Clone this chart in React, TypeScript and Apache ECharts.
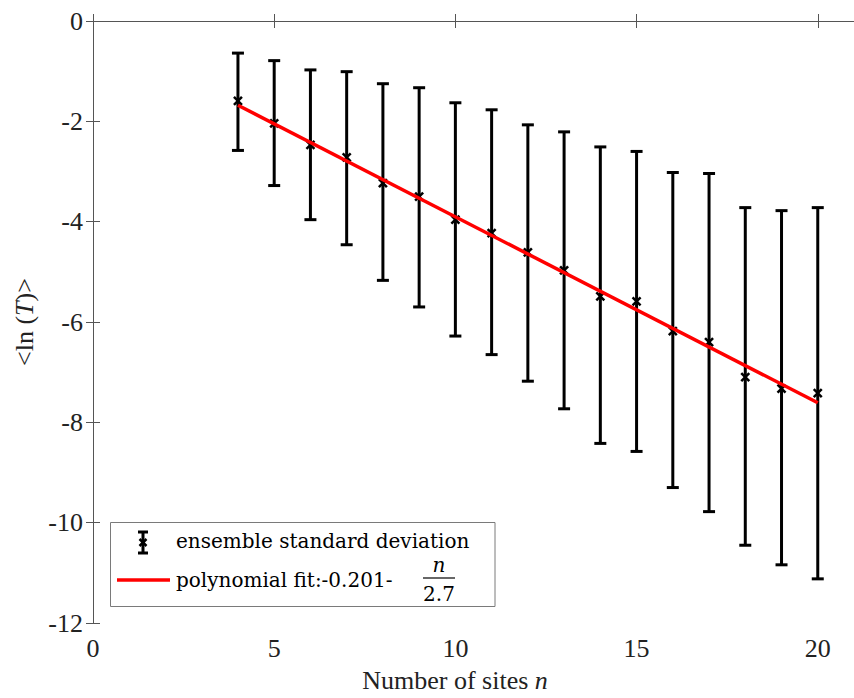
import React, { useEffect, useRef } from "react";
import * as echarts from "echarts";

const sites = [4, 5, 6, 7, 8, 9, 10, 11, 12, 13, 14, 15, 16, 17, 18, 19, 20];
const meanLnT = [-1.59, -2.04, -2.47, -2.72, -3.23, -3.5, -3.96, -4.23, -4.61, -4.97, -5.49, -5.59, -6.18, -6.4, -7.1, -7.33, -7.42];
const upperLnT = [-0.64, -0.79, -0.975, -1.01, -1.25, -1.33, -1.63, -1.77, -2.07, -2.21, -2.51, -2.6, -3.02, -3.04, -3.72, -3.78, -3.72];
const lowerLnT = [-2.58, -3.28, -3.96, -4.46, -5.17, -5.7, -6.28, -6.65, -7.18, -7.73, -8.42, -8.58, -9.3, -9.78, -10.45, -10.84, -11.12];
const fitX = [4, 20];
const fitY = [-1.68, -7.61];
const xTicks = [0, 5, 10, 15, 20];
const yTicks = [0, -2, -4, -6, -8, -10, -12];

const SERIF = "Liberation Serif";
const LEG = "DejaVu Serif";
const AXIS_COLOR = "#555555";

export default function App() {
  const ref = useRef<HTMLDivElement>(null);
  useEffect(() => {
    document.body.style.margin = "0";
    const chart = echarts.init(ref.current!, undefined, { renderer: "svg" });
    const errData = sites.map((n, i) => [n, lowerLnT[i], upperLnT[i], meanLnT[i]]);
    const fitData = fitX.map((x, i) => [x, fitY[i]]);
    const axisCommon = {
      axisLine: { show: true, lineStyle: { color: AXIS_COLOR, width: 1 } },
      axisTick: { show: true, inside: true, length: 7, lineStyle: { color: AXIS_COLOR } },
      splitLine: { show: false },
    };
    const legText = (text: string, x: number, y: number, align: string, italic = false) => ({
      type: "text",
      x,
      y,
      style: {
        text,
        fontFamily: LEG,
        fontSize: 20,
        fontStyle: italic ? "italic" : "normal",
        fill: "#000",
        verticalAlign: "middle",
        align,
      },
    });
    chart.setOption({
      animation: false,
      backgroundColor: "#fff",
      grid: { left: 93, right: -2, top: 21, bottom: 74, containLabel: false },
      xAxis: [
        {
          type: "value",
          min: xTicks[0],
          max: 21,
          interval: 5,
          position: "bottom",
          ...axisCommon,
          axisLabel: {
            show: true,
            margin: 12,
            fontFamily: SERIF,
            fontSize: 26,
            color: "#222",
            showMaxLabel: false,
            formatter: (v: number) => (xTicks.includes(v) ? String(v) : ""),
          },
          name: "Number of sites {i|n}",
          nameLocation: "middle",
          nameGap: 44,
          nameTextStyle: {
            fontFamily: SERIF,
            fontSize: 26,
            color: "#222",
            padding: [0, 37, 0, 0],
            rich: { i: { fontFamily: SERIF, fontSize: 26, fontStyle: "italic", color: "#222" } },
          },
        },
        {
          type: "value",
          min: xTicks[0],
          max: 21,
          interval: 5,
          position: "top",
          ...axisCommon,
          axisLabel: { show: false },
        },
      ],
      yAxis: [
        {
          type: "value",
          min: yTicks[yTicks.length - 1],
          max: yTicks[0],
          interval: 2,
          position: "left",
          ...axisCommon,
          axisLabel: { show: true, margin: 10, fontFamily: SERIF, fontSize: 26, color: "#222" },
          name: "<ln ({i|T})>",
          nameLocation: "middle",
          nameGap: 50,
          nameRotate: 90,
          nameTextStyle: {
            fontFamily: SERIF,
            fontSize: 26,
            color: "#222",
            rich: { i: { fontFamily: SERIF, fontSize: 26, fontStyle: "italic", color: "#222" } },
          },
        },
        {
          type: "value",
          min: yTicks[yTicks.length - 1],
          max: yTicks[0],
          interval: 2,
          position: "right",
          ...axisCommon,
          axisLabel: { show: false },
        },
      ],
      series: [
        {
          type: "custom",
          name: "ensemble standard deviation",
          xAxisIndex: 0,
          yAxisIndex: 0,
          data: errData,
          encode: { x: 0, y: [1, 2, 3] },
          z: 2,
          renderItem: (params: any, api: any) => {
            const x = api.value(0);
            const pLo = api.coord([x, api.value(1)]);
            const pHi = api.coord([x, api.value(2)]);
            const pM = api.coord([x, api.value(3)]);
            const cap = 6;
            const s = 4;
            const st = { stroke: "#000", lineWidth: 3 };
            return {
              type: "group",
              children: [
                { type: "line", shape: { x1: pHi[0], y1: pHi[1], x2: pLo[0], y2: pLo[1] }, style: st },
                { type: "line", shape: { x1: pHi[0] - cap, y1: pHi[1], x2: pHi[0] + cap, y2: pHi[1] }, style: st },
                { type: "line", shape: { x1: pLo[0] - cap, y1: pLo[1], x2: pLo[0] + cap, y2: pLo[1] }, style: st },
                { type: "line", shape: { x1: pM[0] - s, y1: pM[1] - s, x2: pM[0] + s, y2: pM[1] + s }, style: { stroke: "#000", lineWidth: 2.5 } },
                { type: "line", shape: { x1: pM[0] - s, y1: pM[1] + s, x2: pM[0] + s, y2: pM[1] - s }, style: { stroke: "#000", lineWidth: 2.5 } },
              ],
            };
          },
        },
        {
          type: "line",
          name: "polynomial fit",
          xAxisIndex: 0,
          yAxisIndex: 0,
          data: fitData,
          symbol: "none",
          z: 3,
          lineStyle: { color: "#ff0000", width: 3.5 },
        },
      ],
      graphic: [
        {
          type: "group",
          z: 100,
          children: [
            { type: "rect", shape: { x: 110.5, y: 522.5, width: 384.5, height: 84 }, style: { fill: "#fff", stroke: "#7a7a7a", lineWidth: 1 } },
            { type: "line", shape: { x1: 143, y1: 532, x2: 143, y2: 553 }, style: { stroke: "#000", lineWidth: 3 } },
            { type: "line", shape: { x1: 138, y1: 532, x2: 148, y2: 532 }, style: { stroke: "#000", lineWidth: 3 } },
            { type: "line", shape: { x1: 138, y1: 553, x2: 148, y2: 553 }, style: { stroke: "#000", lineWidth: 3 } },
            { type: "line", shape: { x1: 139.5, y1: 539, x2: 146.5, y2: 546 }, style: { stroke: "#000", lineWidth: 2.5 } },
            { type: "line", shape: { x1: 139.5, y1: 546, x2: 146.5, y2: 539 }, style: { stroke: "#000", lineWidth: 2.5 } },
            legText("ensemble standard deviation", 176, 541, "left"),
            { type: "line", shape: { x1: 117, y1: 580, x2: 170, y2: 580 }, style: { stroke: "#ff0000", lineWidth: 3.5 } },
            legText("polynomial fit:-0.201-", 176, 580, "left"),
            legText("n", 439, 565, "center", true),
            { type: "line", shape: { x1: 423, y1: 578, x2: 455, y2: 578 }, style: { stroke: "#000", lineWidth: 1.2 } },
            legText("2.7", 439, 594, "center"),
          ],
        },
      ],
    });
    return () => chart.dispose();
  }, []);
  return <div ref={ref} style={{ width: 854, height: 698 }} />;
}
